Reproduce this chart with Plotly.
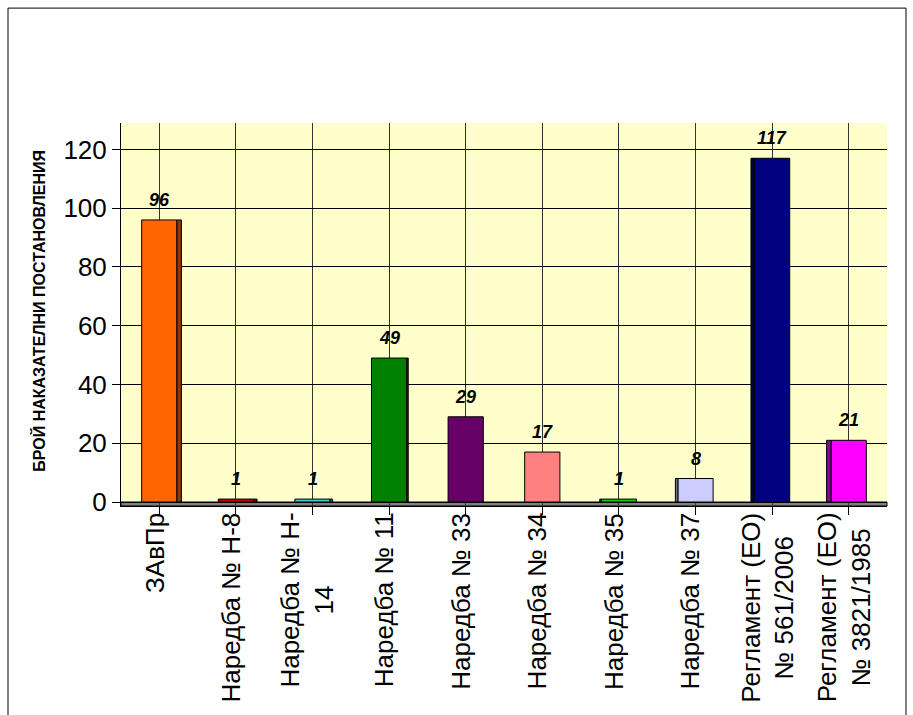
import plotly.graph_objects as go

categories = ["ЗАвПр", "Наредба № Н-8", "Наредба № Н-<br>14", "Наредба № 11",
              "Наредба № 33", "Наредба № 34", "Наредба № 35", "Наредба № 37",
              "Регламент (ЕО)<br>№ 561/2006", "Регламент (ЕО)<br>№ 3821/1985"]
values = [96, 1, 1, 49, 29, 17, 1, 8, 117, 21]
colors = ["#FF6600", "#CC0000", "#33CCCC", "#008000", "#660066",
          "#FF8080", "#00CC00", "#CCCCFF", "#000080", "#FF00FF"]
y_ticks = [0, 20, 40, 60, 80, 100, 120]
y_title = "БРОЙ НАКАЗАТЕЛНИ ПОСТАНОВЛЕНИЯ"

FONT = "Arial, Liberation Sans, sans-serif"
x_idx = list(range(len(categories)))
BAR_W = 0.46
PX_PER_UNIT = 766 / len(categories)


def darker(hexcol, f=0.55):
    h = hexcol.lstrip("#")
    r, g, b = (int(h[k:k + 2], 16) for k in (0, 2, 4))
    return "#%02X%02X%02X" % (int(r * f), int(g * f), int(b * f))


fig = go.Figure()
fig.add_trace(go.Bar(
    x=x_idx, y=values, width=BAR_W,
    marker=dict(color=colors, line=dict(color="black", width=1)),
    showlegend=False, hoverinfo="skip",
))

shapes = [
    dict(type="rect", xref="paper", yref="y", x0=0, x1=1, y0=-1.36, y1=0,
         fillcolor="#808080", line=dict(color="black", width=1), layer="below"),
    dict(type="rect", xref="paper", yref="paper", x0=-0.1475, x1=1.0248,
         y0=-0.6, y1=1.3, line=dict(color="black", width=1)),
]
# 3D-like side faces, derived from each bar's value and index
for i, v, c in zip(x_idx, values, colors):
    side_px = (4.5 - i) * 1.0
    side = side_px / PX_PER_UNIT
    if abs(side_px) < 0.6:
        continue
    if side > 0:
        x0, x1 = i + BAR_W / 2, i + BAR_W / 2 + side
    else:
        x0, x1 = i - BAR_W / 2 + side, i - BAR_W / 2
    shapes.append(dict(type="rect", xref="x", yref="y", x0=x0, x1=x1, y0=0, y1=v,
                       fillcolor=darker(c), line=dict(color="black", width=1)))

annotations = []
for i, v in zip(x_idx, values):
    annotations.append(dict(
        x=i, y=v, xref="x", yref="y", text=str(v), showarrow=False,
        yanchor="bottom", yshift=8,
        font=dict(family=FONT, size=18, color="black", weight="bold", style="italic"),
    ))
for i, c in zip(x_idx, categories):
    annotations.append(dict(
        x=i, y=-0.012, xref="x", yref="paper", text=c, showarrow=False,
        textangle=-90, yanchor="top", xanchor="center", align="center", xshift=-5,
        font=dict(family=FONT, size=26, color="black"),
    ))
annotations.append(dict(
    x=-0.107, y=0.51, xref="paper", yref="paper", text=y_title, showarrow=False,
    textangle=-90, xanchor="center", yanchor="middle",
    font=dict(family=FONT, size=16, color="black", weight="bold"),
))

fig.update_layout(
    width=913, height=715,
    margin=dict(l=121, r=26, t=123, b=209),
    paper_bgcolor="white", plot_bgcolor="#FFFFCC",
    font=dict(family=FONT, color="black"),
    annotations=annotations, shapes=shapes,
    xaxis=dict(
        range=[-0.5, len(categories) - 0.5], tickmode="array", tickvals=x_idx,
        ticktext=[""] * len(categories), tickson="boundaries",
        showgrid=True, gridcolor="#333333", gridwidth=1,
        ticks="outside", ticklen=8, tickcolor="black",
        showline=True, linecolor="black", linewidth=1, zeroline=False,
    ),
    yaxis=dict(
        range=[-1.36, 129], tickmode="array", tickvals=y_ticks,
        showgrid=True, gridcolor="black", gridwidth=1,
        ticks="outside", ticklen=8, tickcolor="black",
        tickfont=dict(family=FONT, size=26, color="black"),
        showline=True, linecolor="black", linewidth=1, zeroline=False,
    ),
)

fig.write_html("out.html")
